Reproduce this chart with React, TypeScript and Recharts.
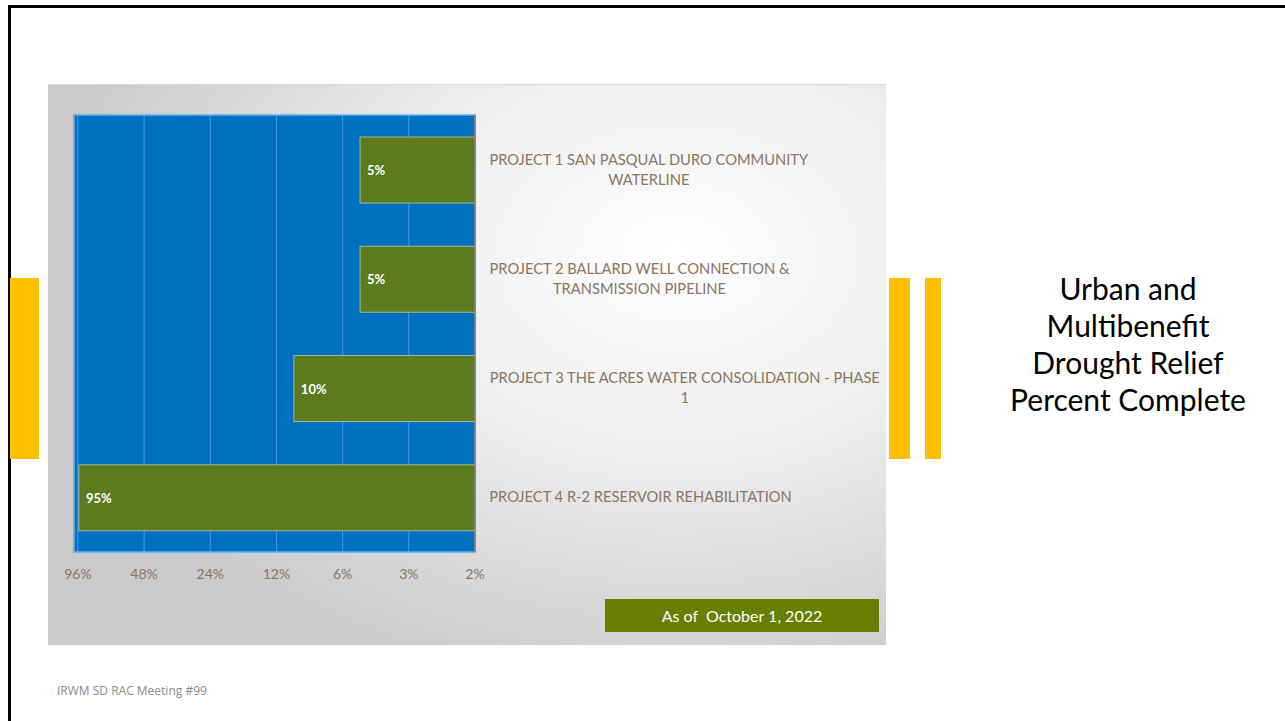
import React from 'react';
import { BarChart, Bar, XAxis, YAxis, CartesianGrid, ReferenceArea, LabelList } from 'recharts';

const projects = [
  'PROJECT 1 SAN PASQUAL DURO COMMUNITY\nWATERLINE',
  'PROJECT 2 BALLARD WELL CONNECTION &\nTRANSMISSION PIPELINE',
  'PROJECT 3 THE ACRES WATER CONSOLIDATION - PHASE\n1',
  'PROJECT 4 R-2 RESERVOIR REHABILITATION',
];
const percentComplete = [5, 5, 10, 95];
const tickValues = [96, 48, 24, 12, 6, 3, 1.5];
const tickLabels = ['96%', '48%', '24%', '12%', '6%', '3%', '2%'];
const axisDomain = [1.5, 100];

const data = projects.map((name, i) => ({ name, value: percentComplete[i] }));

const BROWN = '#8c7561';
const LABEL_SIZE = 14.7;
const LABEL_FONT = `${LABEL_SIZE}px Lato`;

let ctx: CanvasRenderingContext2D | null = null;
const measure = (s: string) => {
  if (!ctx) {
    ctx = document.createElement('canvas').getContext('2d');
  }
  if (!ctx) return s.length * 8;
  ctx.font = LABEL_FONT;
  return ctx.measureText(s).width;
};

const CategoryTick = (props: any) => {
  const { x, y, payload } = props;
  const lines: string[] = String(payload.value).split('\n');
  const maxW = Math.max(...lines.map(measure));
  const cx = x + 6 + maxW / 2;
  const lh = 20;
  const startY = y - 1 - ((lines.length - 1) * lh) / 2;
  return (
    <text x={cx} y={startY} textAnchor="middle" fill={BROWN} fontFamily="Lato" fontSize={LABEL_SIZE} dominantBaseline="central">
      {lines.map((l, i) => (
        <tspan key={i} x={cx} y={startY + i * lh}>
          {l}
        </tspan>
      ))}
    </text>
  );
};

const XTick = (props: any) => {
  const { x, y, payload } = props;
  const idx = tickValues.indexOf(payload.value);
  return (
    <text x={x} y={y + 13} textAnchor="middle" fill={BROWN} fontFamily="Lato" fontSize={14} dominantBaseline="central">
      {idx >= 0 ? tickLabels[idx] : ''}
    </text>
  );
};

const BarLabel = (props: any) => {
  const { x, y, width, height, value } = props;
  const left = Math.min(x, x + width);
  return (
    <text x={left + 7} y={y + height / 2} fill="#ffffff" fontFamily="Lato" fontWeight="bold" fontSize={13} dominantBaseline="central">
      {value}%
    </text>
  );
};

export default function App() {
  return (
    <div style={{ position: 'absolute', left: 0, top: 0, width: 1285, height: 721, overflow: 'hidden', background: '#ffffff' }}>
      <div style={{ position: 'absolute', left: 8, top: 5, width: 1300, height: 800, border: '3px solid #000', boxSizing: 'border-box' }} />
      <div style={{ position: 'absolute', left: 10, top: 278, width: 29, height: 181, background: '#FFC000' }} />
      <div style={{ position: 'absolute', left: 889, top: 278, width: 21, height: 181, background: '#FFC000' }} />
      <div style={{ position: 'absolute', left: 925, top: 278, width: 16, height: 181, background: '#FFC000' }} />
      <div
        style={{
          position: 'absolute',
          left: 48,
          top: 84,
          width: 838,
          height: 561,
          background: 'radial-gradient(ellipse 75% 80% at 75% 30%, #ffffff 0%, #eeeeee 45%, #cacaca 100%)',
          borderTop: '1px solid #e0d8cc',
          boxSizing: 'border-box',
        }}
      >
        <BarChart
          width={838}
          height={561}
          data={data}
          layout="vertical"
          margin={{ top: 30, left: 26, right: 0, bottom: 64 }}
          barSize={66}
        >
          <CartesianGrid horizontal={false} vertical={true} stroke="#4a9ade" fill="#0070C0" fillOpacity={1} />
          <XAxis
            type="number"
            scale="log"
            domain={axisDomain}
            allowDataOverflow
            reversed
            ticks={tickValues}
            interval={0}
            tick={<XTick />}
            tickLine={false}
            axisLine={false}
            height={30}
          />
          <YAxis
            type="category"
            dataKey="name"
            orientation="right"
            width={411}
            tick={<CategoryTick />}
            tickLine={false}
            axisLine={{ stroke: '#8c7a6a', strokeWidth: 1.5 }}
            interval={0}
          />
          <ReferenceArea x1={1.5} x2={100} fill="none" stroke="#5fb0ee" strokeWidth={1.5} ifOverflow="visible" />
          <Bar dataKey="value" fill="#5B7B1E" stroke="#a3b89a" strokeWidth={1} isAnimationActive={false}>
            <LabelList dataKey="value" content={<BarLabel />} />
          </Bar>
        </BarChart>
        <div
          style={{
            position: 'absolute',
            left: 557,
            top: 514,
            width: 274,
            height: 33,
            background: '#677E00',
            color: '#ffffff',
            fontFamily: 'Lato',
            fontSize: 16,
            lineHeight: '33px',
            textAlign: 'center',
            whiteSpace: 'pre',
          }}
        >
          {'As of  October 1, 2022'}
        </div>
      </div>
      <div
        style={{
          position: 'absolute',
          left: 990,
          top: 270,
          width: 276,
          textAlign: 'center',
          fontFamily: 'Lato',
          fontSize: 30,
          lineHeight: '37px',
          color: '#000',
        }}
      >
        Urban and
        <br />
        Multibenefit
        <br />
        Drought Relief
        <br />
        Percent Complete
      </div>
      <div style={{ position: 'absolute', left: 57, top: 682, fontFamily: 'Open Sans', fontSize: 12, color: '#8a8a8a' }}>
        IRWM SD RAC Meeting #99
      </div>
    </div>
  );
}
